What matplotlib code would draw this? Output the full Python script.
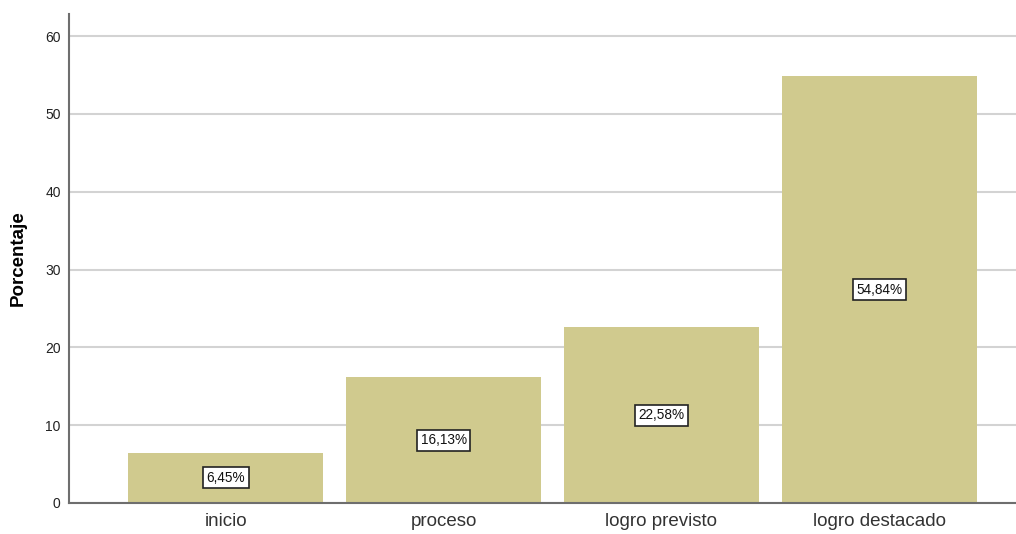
import numpy as np
import matplotlib.pyplot as plt

plt.rcParams['font.family'] = ['Liberation Sans', 'DejaVu Sans']

categorias = ["inicio", "proceso", "logro previsto", "logro destacado"]
porcentajes = [6.45, 16.13, 22.58, 54.84]
etiquetas = ["6,45%", "16,13%", "22,58%", "54,84%"]
yticks = [0, 10, 20, 30, 40, 50, 60]

fig = plt.figure(figsize=(10.16, 5.34), dpi=100)
ax = fig.add_axes([69 / 1016, 31 / 534, 947 / 1016, 489 / 534])

x = np.arange(len(categorias))
ax.bar(x, porcentajes, width=0.896, color='#D0CA8E', zorder=2)

for xi, v, lab in zip(x, porcentajes, etiquetas):
    ax.text(xi, v / 2, lab, ha='center', va='center', fontsize=9.8, zorder=3,
            color='#111111',
            bbox=dict(boxstyle='square,pad=0.25', fc='white', ec='#222222', lw=1.2))

ax.set_xlim(-0.721, 3.629)
ax.set_ylim(0, 62.83)
ax.set_yticks(yticks)
ax.set_xticks(x)
ax.set_xticklabels(categorias, fontsize=13.5, color='#333333')
ax.tick_params(axis='y', labelsize=10, length=0, pad=6, labelcolor='#222222')
ax.tick_params(axis='x', length=0, pad=7)
ax.yaxis.grid(True, color='#D3D3D3', lw=1.5, zorder=0)
ax.set_axisbelow(True)

for s in ['top', 'right']:
    ax.spines[s].set_visible(False)
for s in ['left', 'bottom']:
    ax.spines[s].set_color('#6E6E6E')
    ax.spines[s].set_linewidth(1.5)

ax.set_ylabel("Porcentaje", fontsize=13.5, fontweight='bold', labelpad=13)

fig.savefig("out.png", dpi=100)
